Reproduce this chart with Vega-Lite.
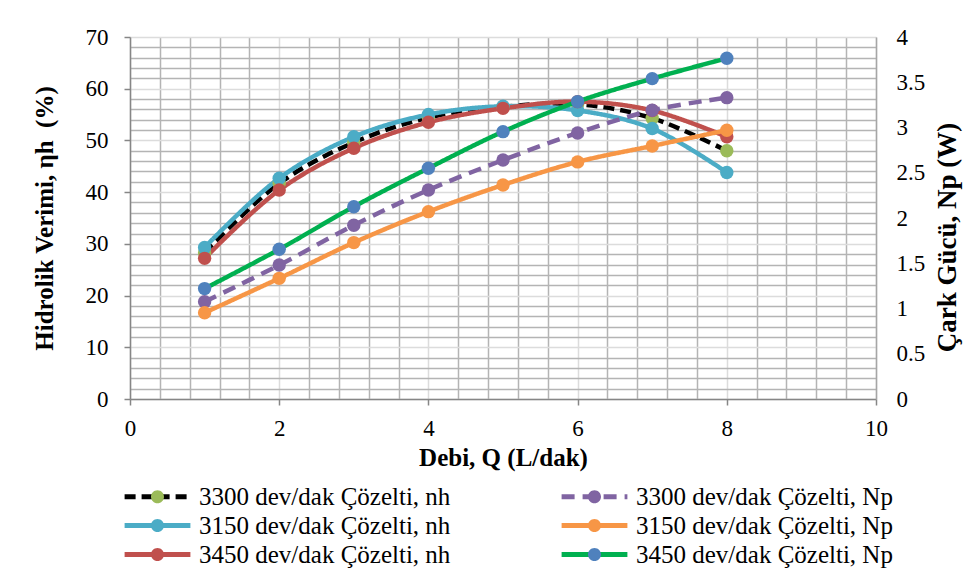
{
  "$schema": "https://vega.github.io/schema/vega-lite/v6.json",
  "width": 746,
  "height": 362,
  "autosize": {"type": "none"},
  "padding": {"left": 130, "top": 37, "right": 95, "bottom": 172},
  "background": "white",
  "config": {
    "font": "Liberation Serif",
    "view": {"stroke": null},
    "axis": {"labelColor": "#000000", "titleColor": "#000000", "labelFont": "Liberation Serif", "titleFont": "Liberation Serif"},
    "legend": {"labelFont": "Liberation Serif"}
  },
  "datasets": {
    "nh": [
      {"q": 1, "series": "3300 dev/dak Çözelti, nh", "value": 28.3},
      {"q": 2, "series": "3300 dev/dak Çözelti, nh", "value": 41.7},
      {"q": 3, "series": "3300 dev/dak Çözelti, nh", "value": 49.6},
      {"q": 4, "series": "3300 dev/dak Çözelti, nh", "value": 54.4},
      {"q": 5, "series": "3300 dev/dak Çözelti, nh", "value": 56.5},
      {"q": 6, "series": "3300 dev/dak Çözelti, nh", "value": 57.0},
      {"q": 7, "series": "3300 dev/dak Çözelti, nh", "value": 54.3},
      {"q": 8, "series": "3300 dev/dak Çözelti, nh", "value": 48.0},
      {"q": 1, "series": "3150 dev/dak Çözelti, nh", "value": 29.3},
      {"q": 2, "series": "3150 dev/dak Çözelti, nh", "value": 42.7},
      {"q": 3, "series": "3150 dev/dak Çözelti, nh", "value": 50.7},
      {"q": 4, "series": "3150 dev/dak Çözelti, nh", "value": 55.0},
      {"q": 5, "series": "3150 dev/dak Çözelti, nh", "value": 56.6},
      {"q": 6, "series": "3150 dev/dak Çözelti, nh", "value": 55.8},
      {"q": 7, "series": "3150 dev/dak Çözelti, nh", "value": 52.3},
      {"q": 8, "series": "3150 dev/dak Çözelti, nh", "value": 43.8},
      {"q": 1, "series": "3450 dev/dak Çözelti, nh", "value": 27.2},
      {"q": 2, "series": "3450 dev/dak Çözelti, nh", "value": 40.4},
      {"q": 3, "series": "3450 dev/dak Çözelti, nh", "value": 48.5},
      {"q": 4, "series": "3450 dev/dak Çözelti, nh", "value": 53.5},
      {"q": 5, "series": "3450 dev/dak Çözelti, nh", "value": 56.2},
      {"q": 6, "series": "3450 dev/dak Çözelti, nh", "value": 57.5},
      {"q": 7, "series": "3450 dev/dak Çözelti, nh", "value": 55.8},
      {"q": 8, "series": "3450 dev/dak Çözelti, nh", "value": 50.7}
    ],
    "np": [
      {"q": 1, "series": "3300 dev/dak Çözelti, Np", "value": 1.075},
      {"q": 2, "series": "3300 dev/dak Çözelti, Np", "value": 1.48},
      {"q": 3, "series": "3300 dev/dak Çözelti, Np", "value": 1.92},
      {"q": 4, "series": "3300 dev/dak Çözelti, Np", "value": 2.31},
      {"q": 5, "series": "3300 dev/dak Çözelti, Np", "value": 2.64},
      {"q": 6, "series": "3300 dev/dak Çözelti, Np", "value": 2.94},
      {"q": 7, "series": "3300 dev/dak Çözelti, Np", "value": 3.19},
      {"q": 8, "series": "3300 dev/dak Çözelti, Np", "value": 3.33},
      {"q": 1, "series": "3150 dev/dak Çözelti, Np", "value": 0.953},
      {"q": 2, "series": "3150 dev/dak Çözelti, Np", "value": 1.333},
      {"q": 3, "series": "3150 dev/dak Çözelti, Np", "value": 1.728},
      {"q": 4, "series": "3150 dev/dak Çözelti, Np", "value": 2.07},
      {"q": 5, "series": "3150 dev/dak Çözelti, Np", "value": 2.365},
      {"q": 6, "series": "3150 dev/dak Çözelti, Np", "value": 2.62},
      {"q": 7, "series": "3150 dev/dak Çözelti, Np", "value": 2.796},
      {"q": 8, "series": "3150 dev/dak Çözelti, Np", "value": 2.97},
      {"q": 1, "series": "3450 dev/dak Çözelti, Np", "value": 1.22},
      {"q": 2, "series": "3450 dev/dak Çözelti, Np", "value": 1.654},
      {"q": 3, "series": "3450 dev/dak Çözelti, Np", "value": 2.125},
      {"q": 4, "series": "3450 dev/dak Çözelti, Np", "value": 2.55},
      {"q": 5, "series": "3450 dev/dak Çözelti, Np", "value": 2.954},
      {"q": 6, "series": "3450 dev/dak Çözelti, Np", "value": 3.286},
      {"q": 7, "series": "3450 dev/dak Çözelti, Np", "value": 3.54},
      {"q": 8, "series": "3450 dev/dak Çözelti, Np", "value": 3.765}
    ]
  },
  "encoding": {
    "x": {
      "field": "q",
      "type": "quantitative",
      "scale": {"domain": [0, 10], "nice": false, "zero": false},
      "axis": {
        "values": [0, 0.4, 0.8, 1.2, 1.6, 2, 2.4, 2.8, 3.2, 3.6, 4, 4.4, 4.8, 5.2, 5.6, 6, 6.4, 6.8, 7.2, 7.6, 8, 8.4, 8.8, 9.2, 9.6, 10],
        "format": "~g",
        "labelExpr": "datum.value % 2 === 0 ? datum.label : ''",
        "grid": true,
        "gridColor": {"condition": {"test": "datum.value % 2 === 0", "value": "#dcdcdc"}, "value": "#b4b4b4"},
        "gridWidth": 1.5,
        "domainColor": "#868686",
        "domainWidth": 1.5,
        "tickColor": "#868686",
        "tickWidth": 1.5,
        "tickSize": 6,
        "tickOpacity": {"condition": {"test": "datum.value % 2 === 0", "value": 1}, "value": 0},
        "labelFontSize": 23,
        "labelPadding": 12,
        "labelFlush": false,
        "labelOverlap": false,
        "title": "Debi, Q (L/dak)",
        "titleFontSize": 25,
        "titleFontWeight": "bold",
        "titlePadding": 5
      }
    }
  },
  "layer": [
    {
      "data": {"name": "nh"},
      "encoding": {
        "y": {
          "field": "value",
          "type": "quantitative",
          "scale": {"domain": [0, 70], "nice": false},
          "axis": {
            "orient": "left",
            "values": [0, 2, 4, 6, 8, 10, 12, 14, 16, 18, 20, 22, 24, 26, 28, 30, 32, 34, 36, 38, 40, 42, 44, 46, 48, 50, 52, 54, 56, 58, 60, 62, 64, 66, 68, 70],
            "labelExpr": "datum.value % 10 === 0 ? datum.label : ''",
            "grid": true,
            "gridColor": {"condition": {"test": "datum.value % 10 === 0", "value": "#dcdcdc"}, "value": "#b4b4b4"},
            "gridWidth": 1.5,
            "domainColor": "#868686",
            "domainWidth": 1.5,
            "tickColor": "#868686",
            "tickWidth": 1.5,
            "tickSize": 6,
            "tickOpacity": {"condition": {"test": "datum.value % 10 === 0", "value": 1}, "value": 0},
            "labelFontSize": 23,
            "labelPadding": 16,
            "labelFlush": false,
            "labelOverlap": false,
            "title": "Hidrolik Verimi, ηh\u00a0 (%)",
            "titleFontSize": 25,
            "titleFontWeight": "bold",
            "titlePadding": 28
          }
        }
      },
      "layer": [
        {
          "mark": {"type": "line", "interpolate": "catmull-rom", "strokeWidth": 4.5, "strokeCap": "butt"},
          "encoding": {
            "stroke": {
              "field": "series",
              "type": "nominal",
              "scale": {
                "domain": ["3300 dev/dak Çözelti, nh", "3150 dev/dak Çözelti, nh", "3450 dev/dak Çözelti, nh", "3300 dev/dak Çözelti, Np", "3150 dev/dak Çözelti, Np", "3450 dev/dak Çözelti, Np"],
                "range": ["#000000", "#4BACC6", "#C0504D", "#8064A2", "#F79646", "#00B050"]
              },
              "legend": {
                "orient": "none", "legendX": 15, "legendY": 447, "columns": 2, "columnPadding": 100, "rowPadding": 3,
                "padding": 0, "title": null, "symbolType": "M-4.7,0L4.7,0", "symbolSize": 196, "symbolStrokeWidth": 5,
                "labelFontSize": 25, "labelOffset": 29, "labelLimit": 400, "labelColor": "#000000", "zindex": 1
              }
            },
            "strokeDash": {
              "field": "series",
              "type": "nominal",
              "scale": {
                "domain": ["3300 dev/dak Çözelti, nh", "3150 dev/dak Çözelti, nh", "3450 dev/dak Çözelti, nh", "3300 dev/dak Çözelti, Np", "3150 dev/dak Çözelti, Np", "3450 dev/dak Çözelti, Np"],
                "range": [[11, 6], [1, 0], [1, 0], [13, 8], [1, 0], [1, 0]]
              },
              "legend": {
                "orient": "none", "legendX": 15, "legendY": 447, "columns": 2, "columnPadding": 100, "rowPadding": 3,
                "padding": 0, "title": null, "symbolType": "M-4.7,0L4.7,0", "symbolSize": 196, "symbolStrokeWidth": 5,
                "labelFontSize": 25, "labelOffset": 29, "labelLimit": 400, "labelColor": "#000000", "zindex": 1
              }
            }
          }
        },
        {
          "mark": {"type": "point", "shape": "circle", "filled": true, "size": 180, "opacity": 1},
          "encoding": {
            "fill": {
              "field": "series",
              "type": "nominal",
              "scale": {
                "domain": ["3450 dev/dak Çözelti, Np", "3150 dev/dak Çözelti, Np", "3300 dev/dak Çözelti, Np", "3450 dev/dak Çözelti, nh", "3150 dev/dak Çözelti, nh", "3300 dev/dak Çözelti, nh"],
                "range": ["#4F81BD", "#F79646", "#8064A2", "#C0504D", "#4BACC6", "#9BBB59"]
              },
              "legend": {
                "orient": "none", "legendX": 15, "legendY": 447, "columns": 2, "columnPadding": 100, "rowPadding": 3,
                "padding": 0, "title": null,
                "values": ["3300 dev/dak Çözelti, nh", "3150 dev/dak Çözelti, nh", "3450 dev/dak Çözelti, nh", "3300 dev/dak Çözelti, Np", "3150 dev/dak Çözelti, Np", "3450 dev/dak Çözelti, Np"],
                "symbolType": "M-6.14,0L-6.14,0.01M6.14,0L6.14,0.01M0.93,0A0.93,0.93,0,1,1,-0.93,0A0.93,0.93,0,1,1,0.93,0Z", "symbolSize": 196,
                "symbolStrokeWidth": 0,
                "symbolOpacity": 1, "labelFontSize": 25, "labelOffset": 29, "labelLimit": 400, "labelOpacity": 0, "zindex": 2
              }
            }
          }
        }
      ]
    },
    {
      "data": {"name": "np"},
      "encoding": {
        "y": {
          "field": "value",
          "type": "quantitative",
          "scale": {"domain": [0, 4], "nice": false},
          "axis": {
            "orient": "right",
            "values": [0, 0.5, 1, 1.5, 2, 2.5, 3, 3.5, 4],
            "format": "~g",
            "grid": false,
            "ticks": false,
            "tickSize": 0,
            "domainColor": "#a6a6a6",
            "domainWidth": 1.5,
            "labelFontSize": 23,
            "labelPadding": 20,
            "labelFlush": false,
            "labelOverlap": false,
            "title": "Çark Gücü, Np (W)",
            "titleFontSize": 27,
            "titleFontWeight": "bold",
            "titleAngle": 270,
            "titleBaseline": "top",
            "titleAlign": "center",
            "titleY": 200,
            "titlePadding": 10
          }
        }
      },
      "layer": [
        {
          "mark": {"type": "line", "interpolate": "catmull-rom", "strokeWidth": 4.5, "strokeCap": "butt"},
          "encoding": {
            "stroke": {"field": "series", "type": "nominal"},
            "strokeDash": {"field": "series", "type": "nominal"}
          }
        },
        {
          "mark": {"type": "point", "shape": "circle", "filled": true, "size": 180, "opacity": 1},
          "encoding": {
            "fill": {"field": "series", "type": "nominal"}
          }
        }
      ]
    }
  ],
  "resolve": {"scale": {"y": "independent"}}
}
